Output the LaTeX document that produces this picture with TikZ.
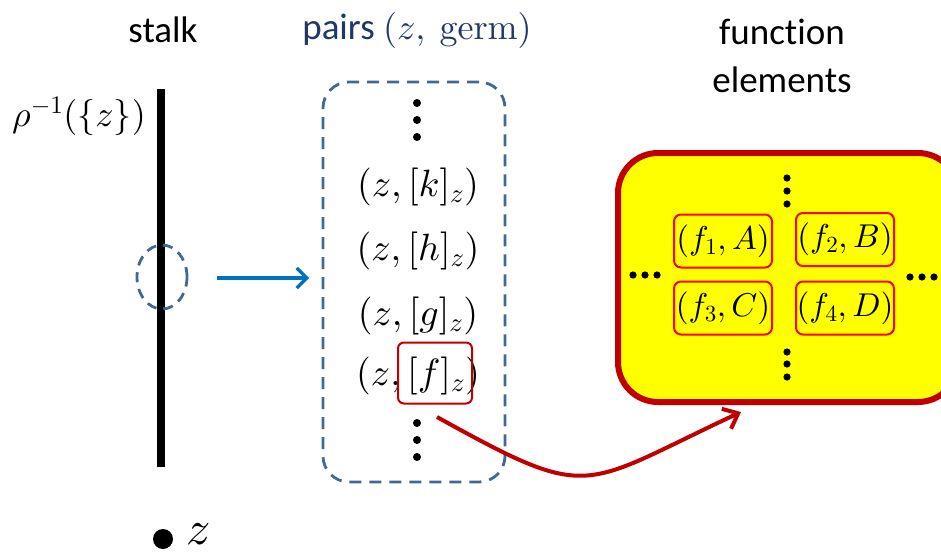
\documentclass[tikz,border=0pt]{standalone}
\usepackage[no-math]{fontspec}
\setmainfont{Carlito}[Ligatures=NoCommon]
\DeclareFontShape{OT1}{cmr}{m}{n}{<-> cmr10}{}
\DeclareFontShape{OML}{cmm}{m}{it}{<-> cmmi10}{}
\DeclareFontShape{OMS}{cmsy}{m}{n}{<-> cmsy10}{}
\DeclareFontShape{OMX}{cmex}{m}{n}{<-> cmex10}{}
\usetikzlibrary{arrows.meta,shapes.geometric}
\definecolor{titleblue}{RGB}{32,56,100}
\definecolor{dashblue}{RGB}{65,105,150}
\definecolor{arrblue}{RGB}{0,112,192}
\definecolor{darkred}{RGB}{192,0,0}
\definecolor{brightred}{RGB}{255,0,0}
\definecolor{yel}{RGB}{255,255,0}
\newcommand{\bigfont}{\fontsize{37}{44}\selectfont}
\newcommand{\mathfont}{\fontsize{38}{44}\selectfont}
\newcommand{\smallmath}{\fontsize{33}{38}\selectfont}
\tikzset{
  lbl/.style={font=\bigfont, inner sep=0pt},
  mt/.style={font=\mathfont, inner sep=0pt},
  dashline/.style={draw=dashblue, line width=2.8, dash pattern=on 12 off 8},
  fbox/.style={draw=brightred, fill=yel, line width=2, rounded corners=7, minimum width=98, minimum height=53, font=\smallmath, inner sep=0pt},
}
\begin{document}
\begin{tikzpicture}[x=1pt,y=-1pt]
\clip (0,0) rectangle (941,554);
\fill[white] (0,0) rectangle (941,554);
% titles
\node[lbl] (stalk) at (163,30) {stalk};
\node[lbl, text=titleblue] (pairs) at (417,30) {pairs {\fontsize{36}{42}\selectfont$(z,\ \mathrm{germ})$}};
\node[lbl, align=center] (fe) at (782,56) {function\\[4pt]elements};
% stalk
\coordinate (st) at (161,89);
\coordinate (sb) at (161,467);
\draw[line width=8] (st) -- (sb);
\node[mt, font=\fontsize{36}{42}\selectfont] (rho) at (79,116) {$\rho^{-1}(\{z\})$};
\node[ellipse, dashline, dash pattern=on 10 off 7, minimum width=50, minimum height=64, inner sep=0pt] (circ) at (162,277) {};
% blue arrow
\coordinate (a1) at (217,278);
\coordinate (a2) at (309,278);
\draw[arrblue, line width=3.2, -{Straight Barb[length=10,width=20]}] (a1) -- (a2);
% pairs box
\node[dashline, rounded corners=26, minimum width=182, minimum height=400, inner sep=0pt] (pbox) at (414,282) {};
\foreach \yy in {103,120,137,423,440,457} \fill (417,\yy) circle (4);
\node[mt] (k) at (418,187) {$(z,[k]_z)$};
\node[mt] (h) at (418,251) {$(z,[h]_z)$};
\node[mt] (g) at (418,316) {$(z,[g]_z)$};
\node[mt] (f) at (418,376) {$(z,[f]_z)$};
\node[draw=darkred, line width=2, rounded corners=6, minimum width=74, minimum height=61, inner sep=0pt] (fsel) at (435,373) {};
% function elements box
\node[draw=darkred, fill=yel, line width=6, rounded corners=40, minimum width=340, minimum height=249, inner sep=0pt] (febox) at (788,277.5) {};
\foreach \yy in {178,191,204,352,364,377} \fill (787,\yy) circle (3.6);
\foreach \xx in {633,645,657} \fill (\xx,275) circle (3.6);
\foreach \xx in {910,922,934} \fill (\xx,277) circle (3.6);
\node[fbox] (fA) at (723,241) {$(f_1,A)$};
\node[fbox] (fB) at (845,239.5) {$(f_2,B)$};
\node[fbox] (fC) at (723,308) {$(f_3,C)$};
\node[fbox] (fD) at (845,308) {$(f_4,D)$};
% red curved arrow
\coordinate (rs) at (437,417);
\coordinate (re) at (741,412);
\draw[darkred, line width=4, -{Straight Barb[length=13,width=22]}] (rs) to[out=-29, in=-155, looseness=1.5] (re);
% point z
\fill (163,539) circle (10);
\node[font=\fontsize{48}{54}\selectfont, inner sep=0pt] (zl) at (199,534) {$z$};
\end{tikzpicture}
\end{document}
